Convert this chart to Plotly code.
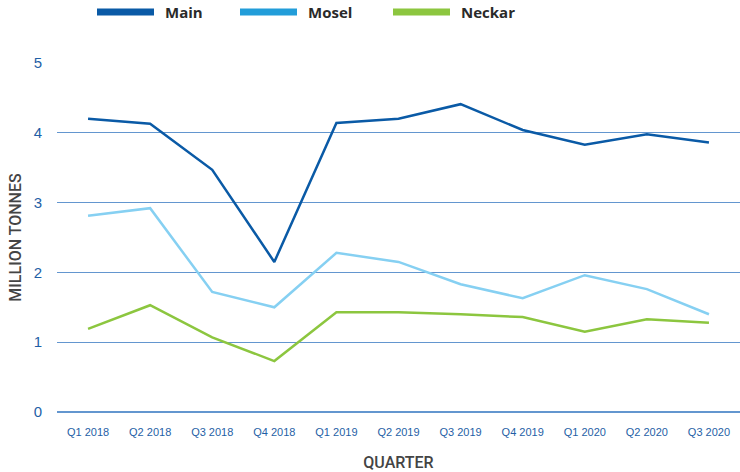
import plotly.graph_objects as go

quarters = ["Q1 2018", "Q2 2018", "Q3 2018", "Q4 2018", "Q1 2019", "Q2 2019",
            "Q3 2019", "Q4 2019", "Q1 2020", "Q2 2020", "Q3 2020"]
main = [4.20, 4.13, 3.47, 2.15, 4.14, 4.20, 4.41, 4.04, 3.83, 3.98, 3.86]
mosel = [2.81, 2.92, 1.72, 1.50, 2.28, 2.15, 1.83, 1.63, 1.96, 1.76, 1.40]
neckar = [1.19, 1.53, 1.07, 0.73, 1.43, 1.43, 1.40, 1.36, 1.15, 1.33, 1.28]
y_ticks = [0, 1, 2, 3, 4, 5]

series = [
    ("Main", main, "#0a5aa6", "#0a5aa6"),
    ("Mosel", mosel, "#86d0f2", "#229dd9"),
    ("Neckar", neckar, "#8cc63f", "#8cc63f"),
]

W, H = 740, 472
L, R, T, B = 57, 0, 63, 60
PW, PH = W - L - R, H - T - B


def px_x(px):
    return (px - L) / PW


def px_y(py):
    return (H - B - py) / PH


fig = go.Figure()
for name, vals, line_col, leg_col in series:
    fig.add_trace(go.Scatter(x=quarters, y=vals, mode="lines", name=name,
                             line=dict(color=line_col, width=2.5),
                             showlegend=False, hoverinfo="x+y+name"))

# custom legend (long bars as in the reference)
legend_start = [97, 240, 393]
for (name, vals, line_col, leg_col), x0 in zip(series, legend_start):
    fig.add_shape(type="line", xref="paper", yref="paper",
                  x0=px_x(x0), x1=px_x(x0 + 57), y0=px_y(12), y1=px_y(12),
                  line=dict(color=leg_col, width=7))
    fig.add_annotation(xref="paper", yref="paper", x=px_x(x0 + 66), y=px_y(12),
                       xanchor="left", yanchor="middle", showarrow=False,
                       text=name,
                       font=dict(family="Open Sans, sans-serif", size=15,
                                 color="#2a2a2a", weight="bold"))

tick_font = dict(family="Liberation Sans, sans-serif", color="#1f5fa6")
title_font = dict(family="Roboto, sans-serif", color="#444444", size=16, weight=500)

fig.update_layout(
    width=W, height=H,
    margin=dict(l=L, r=R, t=T, b=B, autoexpand=False),
    paper_bgcolor="white", plot_bgcolor="white",
    showlegend=False,
    xaxis=dict(type="category", range=[-0.5, 10.5], showgrid=False,
               showline=False, zeroline=False, automargin=False,
               tickfont=dict(size=11, **tick_font), ticklabelstandoff=12,
               title=dict(text="QUARTER", font=title_font, standoff=19)),
    yaxis=dict(range=[0, 5], tickvals=y_ticks, showgrid=True,
               gridcolor="#6396cf", gridwidth=1, zeroline=True,
               zerolinecolor="#6396cf", zerolinewidth=1.5, showline=False,
               automargin=False,
               tickfont=dict(size=15, **tick_font), ticklabelstandoff=14,
               title=dict(text="MILLION TONNES", font=title_font, standoff=8)),
)

fig.write_html("out.html", config={"displayModeBar": False},
               post_script="document.body.style.margin='0';")
